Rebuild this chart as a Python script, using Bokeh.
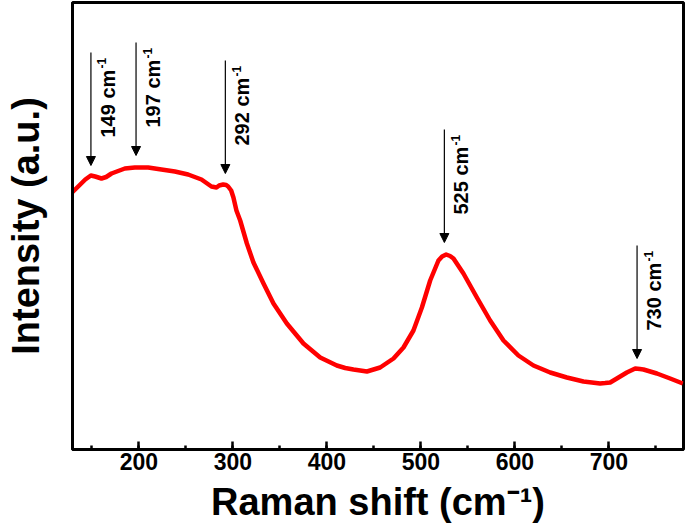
import numpy as np
from bokeh.plotting import figure
from bokeh.models import Range1d, SingleIntervalTicker, FixedTicker, Label, Arrow, NormalHead
from bokeh.embed import file_html
from bokeh.resources import INLINE

# Raman spectrum
raman_shift = [129.0, 137.6, 143.0, 148.9, 153.5, 160.2, 165.2, 170.9, 185.1, 195.7,
               209.9, 224.0, 238.3, 252.4, 266.6, 277.2, 282.6, 285.4, 289.7, 292.9,
               295.0, 298.2, 300.6, 303.8, 307.8, 314.9, 321.9, 332.6, 343.2, 357.4,
               375.1, 392.9, 410.6, 419.5, 428.3, 442.6, 456.7, 470.9, 481.5, 492.1,
               501.1, 509.9, 518.7, 522.6, 526.9, 531.1, 534.7, 545.3, 559.6, 573.7,
               587.9, 603.8, 619.8, 637.6, 655.3, 673.0, 690.7, 696.0, 701.4, 708.5,
               719.1, 728.0, 733.1, 736.8, 751.1, 765.2, 778.7]
intensity = [257, 265, 270, 274, 273, 271, 272.5, 276, 281, 282,
             282, 280, 278, 275, 270, 263, 262, 264, 265, 264.5,
             263, 259, 252, 239, 229, 206, 187, 166, 146, 126,
             106, 92, 84, 81.5, 80, 78, 82, 91, 102, 119,
             142, 169, 189, 193, 195, 193.5, 191, 176, 152, 129,
             109, 94, 84, 77, 72, 68, 66, 66.4, 67, 71,
             77, 81, 80.4, 80, 76, 71, 66]

# Peak annotations
peak_shift = [149, 197, 292, 525, 730]
peak_text = ["149 cm", "197 cm", "292 cm", "525 cm", "730 cm"]
arrow_tip = [284, 294, 276, 207, 91]

FONT = "Liberation Sans"

p = figure(width=685, height=532, output_backend="svg", toolbar_location=None,
           x_range=Range1d(129.4, 779.4), y_range=Range1d(0, 447),
           min_border_left=72, min_border_right=2, min_border_top=2, min_border_bottom=83,
           background_fill_color="white", border_fill_color="white")

p.line(raman_shift, intensity, line_color="#ff0000", line_width=4.5, line_join="round")

p.xgrid.visible = False
p.ygrid.visible = False
p.outline_line_color = "black"
p.outline_line_width = 3

xa = p.xaxis[0]
xa.ticker = SingleIntervalTicker(interval=100, num_minor_ticks=2)
xa.axis_line_width = 3
xa.major_tick_in = 8
xa.major_tick_out = 0
xa.minor_tick_in = 4
xa.minor_tick_out = 0
xa.major_tick_line_width = 2.5
xa.minor_tick_line_width = 2.5
xa.major_label_text_font = FONT
xa.major_label_text_font_style = "bold"
xa.major_label_text_font_size = "23px"
xa.major_label_text_color = "black"
xa.major_label_standoff = 3
xa.axis_label = "Raman shift (cm\u207b\u00b9)"
xa.axis_label_text_font = FONT
xa.axis_label_text_font_style = "bold"
xa.axis_label_text_font_size = "38px"
xa.axis_label_text_color = "black"
xa.axis_label_standoff = 8

ya = p.yaxis[0]
ya.ticker = FixedTicker(ticks=[])
ya.axis_line_width = 3
ya.axis_label = "Intensity (a.u.)"
ya.axis_label_text_font = FONT
ya.axis_label_text_font_style = "bold"
ya.axis_label_text_font_size = "38px"
ya.axis_label_text_color = "black"
ya.axis_label_standoff = 26

# Peak arrows and labels
arrow_len = 113
for xs, txt, tip in zip(peak_shift, peak_text, arrow_tip):
    p.add_layout(Arrow(x_start=xs, y_start=tip + arrow_len, x_end=xs, y_end=tip,
                       line_color="black", line_width=1.2,
                       end=NormalHead(size=9, fill_color="black", line_color="black", line_width=1)))
    p.add_layout(Label(x=xs, y=tip, x_offset=17, y_offset=28, text=txt, angle=np.pi / 2,
                       text_font=FONT, text_font_style="bold", text_font_size="20px",
                       text_baseline="middle", text_align="left", text_color="black"))
    p.add_layout(Label(x=xs, y=tip, x_offset=11, y_offset=97, text="-1", angle=np.pi / 2,
                       text_font=FONT, text_font_style="bold", text_font_size="12px",
                       text_baseline="middle", text_align="left", text_color="black"))

open("out.html", "w").write(file_html(p, INLINE))
